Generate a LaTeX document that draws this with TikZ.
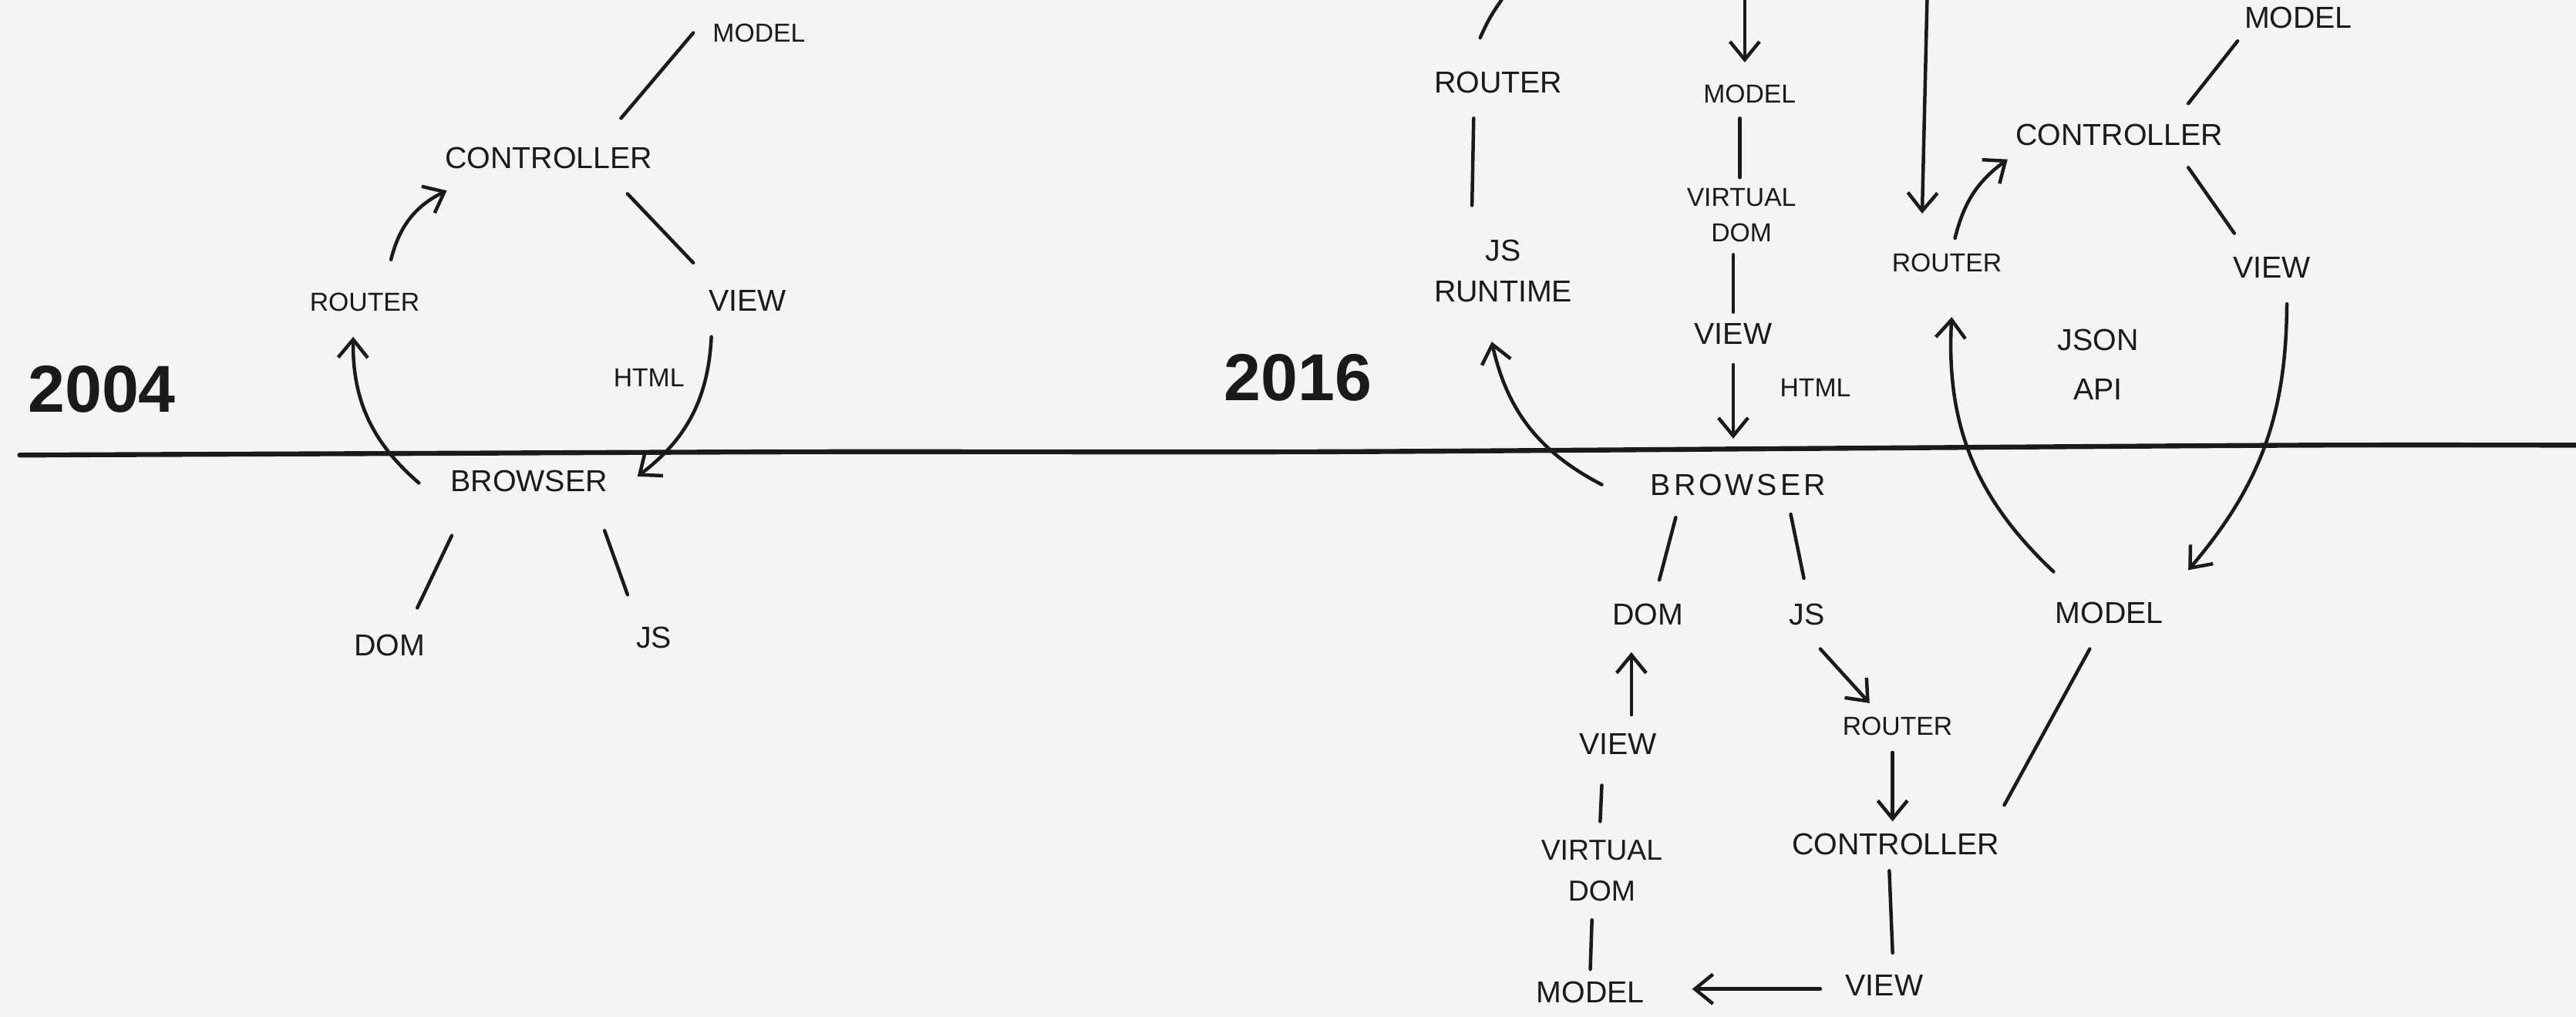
\documentclass[tikz,border=0pt]{standalone}
\usepackage{fontspec}
\setmainfont{Liberation Sans}
\usepackage{xcolor}
\usepackage{tikz}
\usetikzlibrary{positioning,calc,arrows.meta}
\definecolor{giay}{HTML}{F4F4F4}
\definecolor{muc}{HTML}{1A1A1A}

\begin{document}
\begin{tikzpicture}[
	% --- ĐƠN VỊ: 1 = 1 điểm ảnh ---
	x=0.2mm, y=0.2mm,
	% --- KIỂU CHỮ ---
	every node/.style={inner sep=0pt, text=muc, font=\fontsize{10.5}{13}\selectfont},
	nho/.style={font=\fontsize{9}{12.5}\selectfont},
	nam/.style={font=\fontsize{23}{26}\selectfont\bfseries},
	hai/.style={align=center},
	% --- NÉT VẼ ---
	noi/.style={draw=muc, line width=1.2pt, line cap=round},
	mui/.style={noi, -{Straight Barb[length=2.2mm,width=3.6mm]}}
	]
	% Nền
	\fill[giay] (0,0) rectangle (1568,-619);
	\useasboundingbox (0,0) rectangle (1568,-619);
	
	% Trục thời gian
	\draw[muc, line width=1.7pt, line cap=round] plot[smooth] coordinates
	{(12,-277) (250,-276) (500,-275) (800,-275) (1100,-273) (1400,-271) (1568,-271)};
	
	% ===== 2004 =====
	\node[nam] (y04) at (62,-237) {2004};
	\node[nho] (m04) at (462,-20) {MODEL};
	\node (c04) at (334,-96) {CONTROLLER};
	\node[nho] (r04) at (222,-184) {ROUTER};
	\node (v04) at (455,-183) {VIEW};
	\node[nho] (h04) at (395,-230) {HTML};
	\node (b04) at (322,-293) {BROWSER};
	\node (d04) at (237,-393) {DOM};
	\node (j04) at (398,-388) {JS};
	
	\draw[noi] ($(c04)+(44,24)$) -- ($(m04)+(-40,0)$);
	\draw[mui] ($(r04)+(16,26)$) to[bend left=25] ($(c04)+(-62,-20)$);
	\draw[noi] ($(c04)+(48,-22)$) -- ($(v04)+(-33,23)$);
	\draw[mui] ($(v04)+(-22,-22)$) to[bend left=25] ($(b04)+(66,3)$);
	\draw[mui] ($(b04)+(-67,-1)$) to[bend left=25] ($(r04)+(-7,-21)$);
	\draw[noi] ($(b04)+(-47,-33)$) -- ($(d04)+(17,23)$);
	\draw[noi] ($(b04)+(46,-30)$) -- ($(j04)+(-16,26)$);
	
	% ===== 2016 =====
	\node[nam] (y16) at (790,-230) {2016};
	% nhánh JS runtime
	\node (r16a) at (912,-50) {ROUTER};
	\node[hai, font=\fontsize{10.5}{14}\selectfont] (jr16) at (915,-165) {JS\\RUNTIME};
	% nhánh virtual DOM phía trên
	\node[nho] (m16a) at (1065,-57) {MODEL};
	\node[hai, nho] (vd16a) at (1060,-131) {VIRTUAL\\DOM};
	\node (v16a) at (1055,-203) {VIEW};
	\node[nho] (h16) at (1105,-236) {HTML};
	\node (b16) at (1058,-295) {\addfontfeature{LetterSpace=10}BROWSER};
	% dưới trục
	\node (d16) at (1003,-374) {DOM};
	\node (j16) at (1100,-374) {JS};
	\node (v16b) at (985,-453) {VIEW};
	\node[hai, font=\fontsize{10}{14}\selectfont] (vd16b) at (975,-530) {VIRTUAL\\DOM};
	\node (m16b) at (968,-604) {MODEL};
	\node[nho] (r16b) at (1155,-442) {ROUTER};
	\node (c16b) at (1154,-514) {CONTROLLER};
	\node (v16c) at (1147,-600) {VIEW};
	\node (m16c) at (1284,-373) {MODEL};
	% máy chủ JSON
	\node[nho] (r16c) at (1185,-160) {ROUTER};
	\node (c16a) at (1290,-82) {CONTROLLER};
	\node (m16d) at (1399,-11) {MODEL};
	\node (v16d) at (1383,-163) {VIEW};
	\node[hai, font=\fontsize{10.5}{17}\selectfont] (ja16) at (1277,-222) {JSON\\API};
	
	% đầu mút ở mép trên
	\coordinate (tren1) at (914,0);
	\coordinate (tren2) at (1062,0);
	\coordinate (tren3) at (1173,0);
	
	\draw[noi] ($(r16a)+(-11,27)$) to[bend left=6] (tren1);
	\draw[mui] (tren2) -- ($(m16a)+(-3,19)$);
	\draw[mui] (tren3) -- ($(r16c)+(-15,30)$);
	\draw[noi] ($(r16a)+(-15,-22)$) -- ($(jr16)+(-19,40)$);
	\draw[mui] ($(b16)+(-83,0)$) to[bend left=25] ($(jr16)+(-7,-43)$);
	\draw[noi] ($(m16a)+(-6,-15)$) -- ($(vd16a)+(-1,23)$);
	\draw[noi] ($(vd16a)+(-5,-24)$) -- ($(v16a)+(0,13)$);
	\draw[mui] ($(v16a)+(0,-19)$) -- ($(b16)+(-3,28)$);
	\draw[noi] ($(b16)+(-38,-20)$) -- ($(d16)+(7,21)$);
	\draw[noi] ($(b16)+(32,-18)$) -- ($(j16)+(-2,22)$);
	\draw[mui] ($(v16b)+(8,18)$) -- ($(d16)+(-10,-23)$);
	\draw[noi] ($(v16b)+(-10,-25)$) -- ($(vd16b)+(-1,30)$);
	\draw[noi] ($(vd16b)+(-6,-30)$) -- ($(m16b)+(0,14)$);
	\draw[mui] ($(v16c)+(-39,-2)$) -- ($(m16b)+(62,2)$);
	\draw[mui] ($(j16)+(8,-21)$) -- ($(r16b)+(-17,14)$);
	\draw[mui] ($(r16b)+(-3,-16)$) -- ($(c16b)+(-2,14)$);
	\draw[noi] ($(c16b)+(-4,-16)$) -- ($(v16c)+(5,20)$);
	\draw[noi] ($(c16b)+(66,24)$) -- ($(m16c)+(-12,-22)$);
	\draw[mui] ($(m16c)+(-34,25)$) to[bend left=25] ($(r16c)+(3,-33)$);
	\draw[mui] ($(v16d)+(9,-22)$) to[bend left=20] ($(m16c)+(48,26)$);
	\draw[mui] ($(r16c)+(5,15)$) to[bend left=20] ($(c16a)+(-68,-15)$);
	\draw[noi] ($(c16a)+(42,19)$) -- ($(m16d)+(-37,-14)$);
	\draw[noi] ($(c16a)+(42,-20)$) -- ($(v16d)+(-23,21)$);
\end{tikzpicture}
\end{document}
